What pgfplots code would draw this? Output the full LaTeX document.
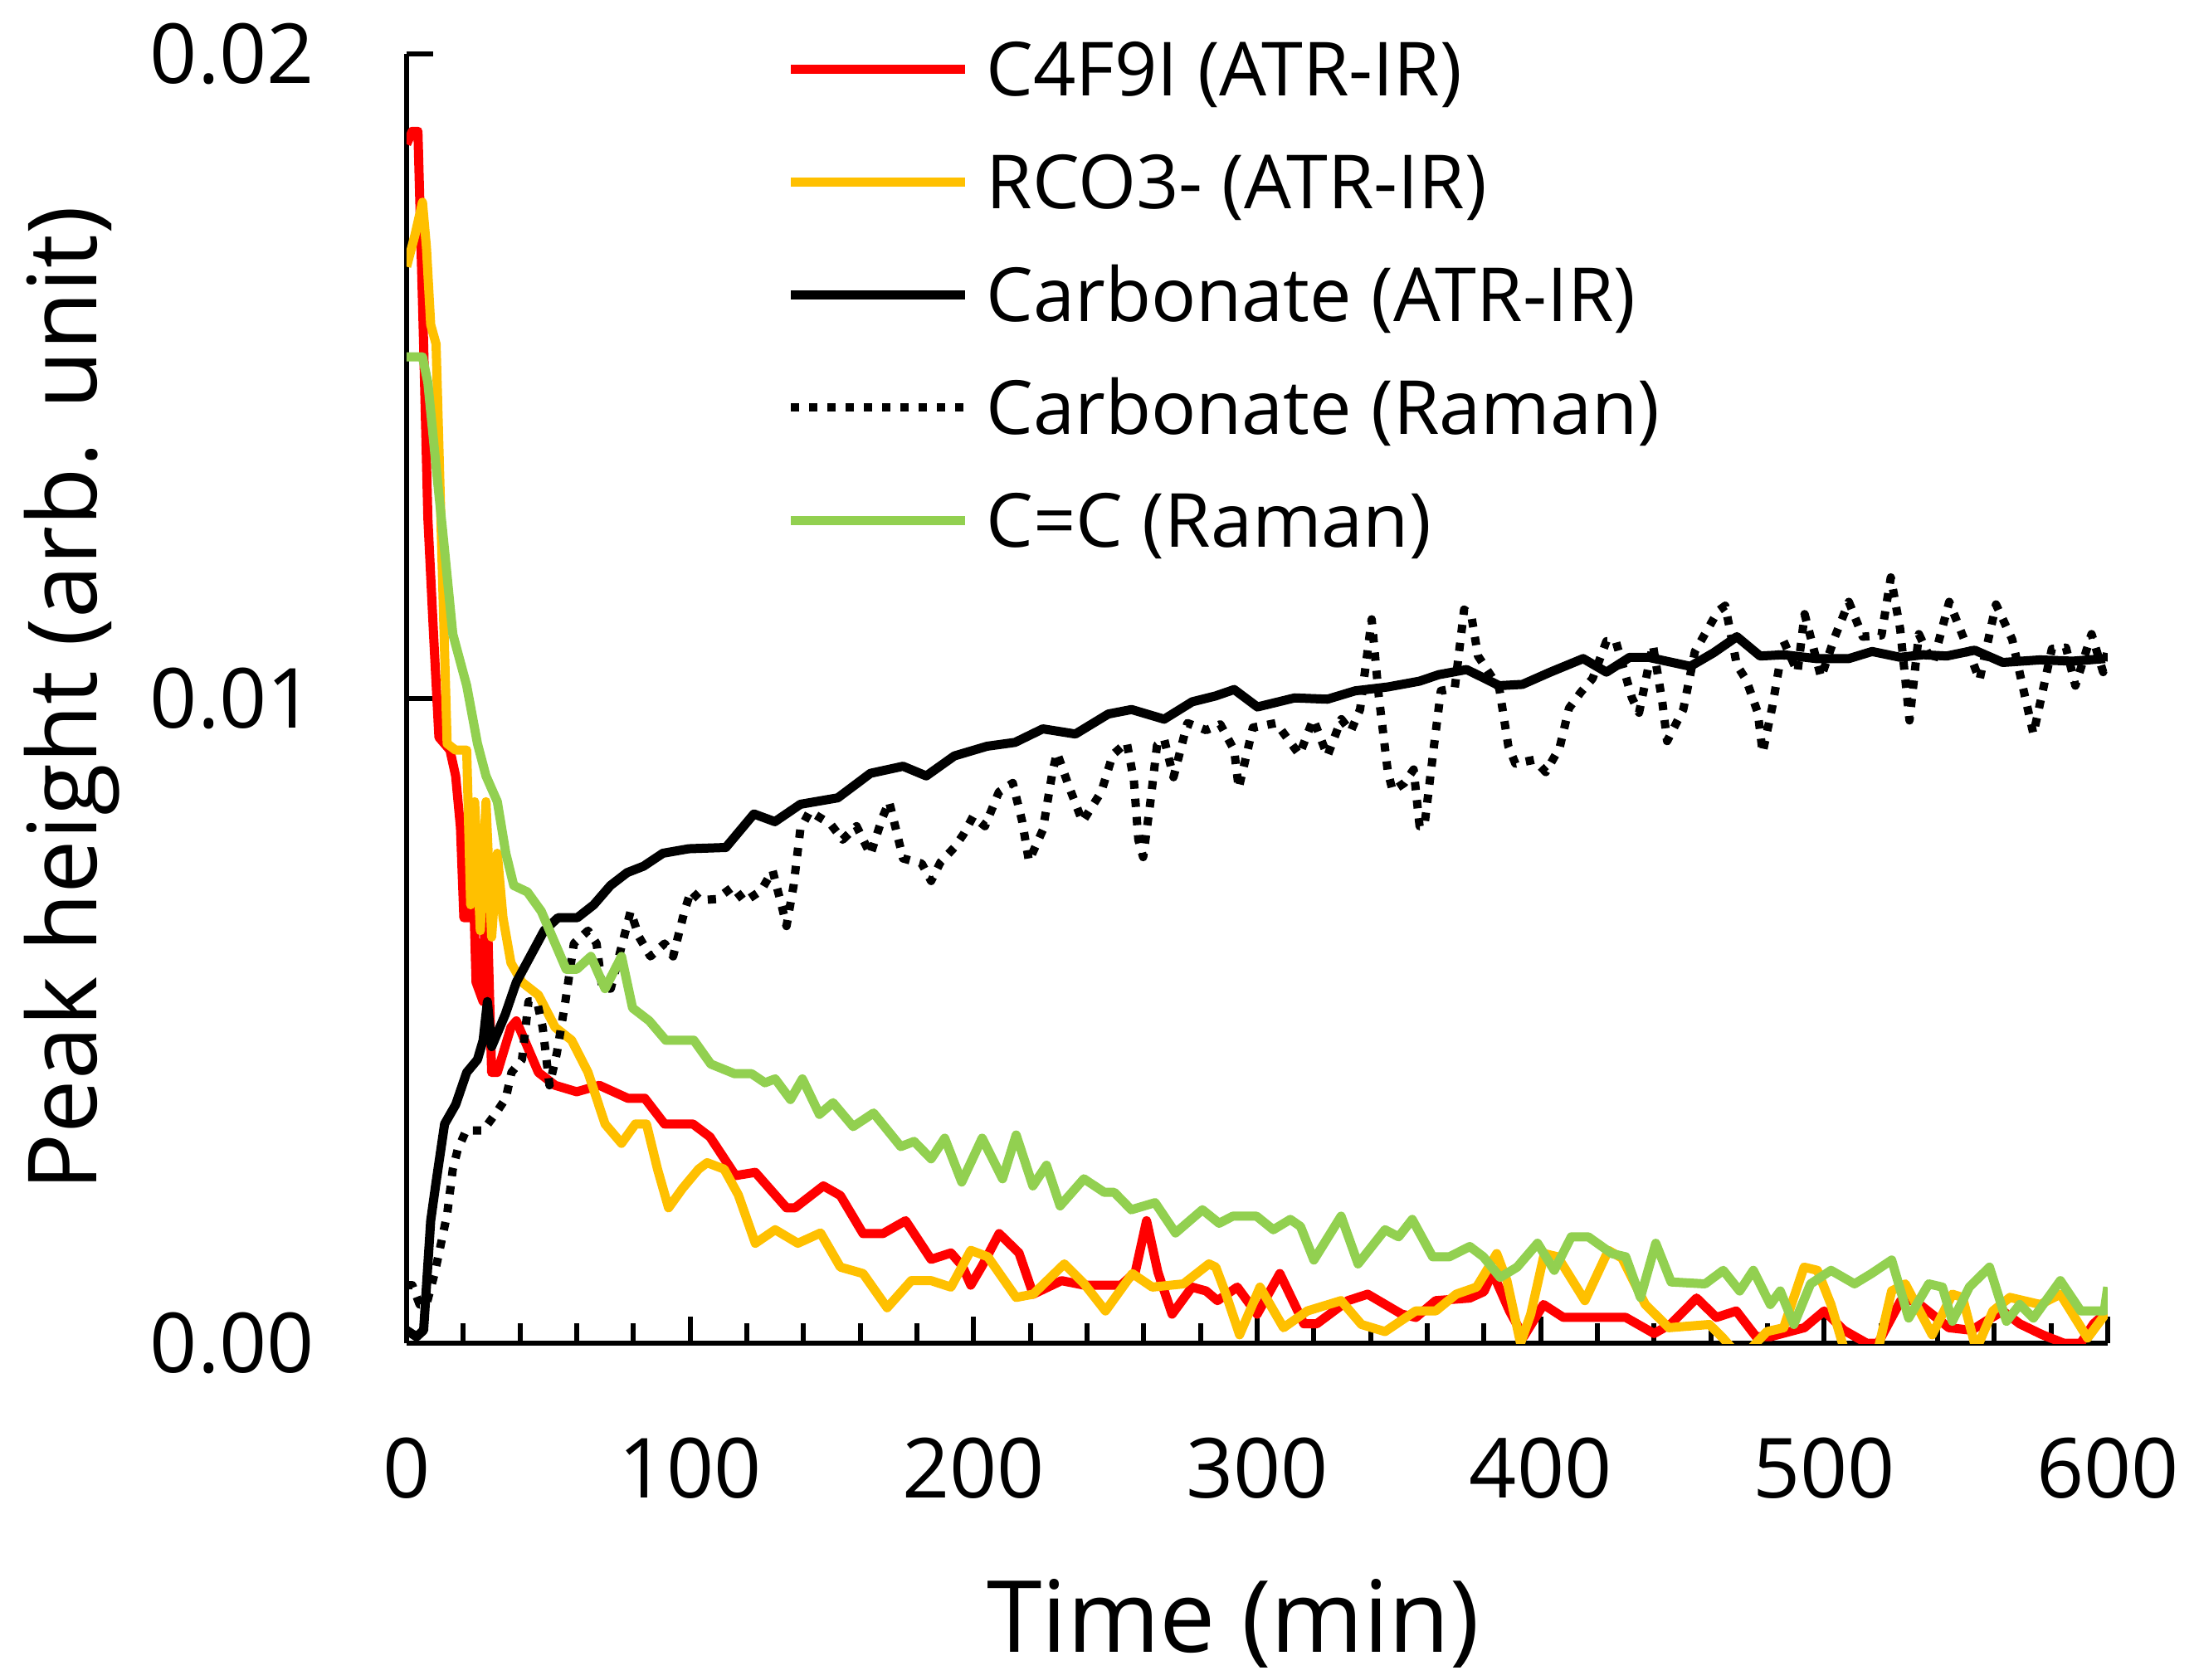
\documentclass[border=0pt]{standalone}
\usepackage{fontspec}
\setmainfont{Open Sans}
\usepackage{pgfplots}
\usepackage{pgfplotstable}
\pgfplotsset{compat=1.18}

\definecolor{exred}{HTML}{FF0000}
\definecolor{exorange}{HTML}{FFC000}
\definecolor{exgreen}{HTML}{92D050}

% C4F9I (ATR-IR)
\pgfplotstableread{
t v
0 0.0186
2 0.0188
4 0.0188
6 0.0155
7.5 0.0128
9.5 0.0110
11.4 0.0094
15.3 0.0092
17.3 0.0088
19 0.0080
20.2 0.0066
22 0.0066
23 0.0080
24.5 0.0056
27 0.0053
28 0.0075
29 0.0058
30 0.0042
32 0.0042
36.8 0.0049
38.7 0.0050
42.6 0.0046
46.5 0.0042
52.4 0.0040
60 0.0039
68 0.0040
78 0.0038
84 0.0038
91 0.0034
101 0.0034
107 0.0032
116 0.0026
123 0.00265
134 0.0021
137 0.0021
147 0.00244
153 0.00229
161 0.0017
168 0.0017
176 0.0019
185 0.0013
192 0.0014
196 0.0012
199 0.0009
203 0.0012
209 0.0017
216 0.0014
221 0.00076
231 0.00097
239 0.0009
252 0.0009
257 0.0011
261 0.0019
265 0.0011
270 0.00045
277 0.00087
282 0.00081
286 0.00066
293 0.00087
300 0.00045
308 0.00108
316.5 0.0003
321 0.0003
332 0.00066
339 0.00076
351 0.00045
356 0.0004
363 0.00066
375 0.0007
380 0.0008
383 0.0011
389 0.0005
394 0.0001
401 0.0006
408 0.0004
430 0.0004
440 0.00015
446 0.0003
455 0.0007
462 0.0004
469 0.0005
476 0.0001
481 0.0001
493 0.00024
500 0.0005
507 0.0002
515 0.0
519 0.0
527 0.00066
532 0.00066
538 0.00045
544 0.00024
552 0.0002
557 0.00034
563 0.0005
569 0.0003
577 0.00013
584.5 0.0
590.5 0.0
595 0.0003
600 0.0005
}\redtab

% RCO3- (ATR-IR)
\pgfplotstableread{
t v
0 0.0167
3 0.0172
5.6 0.0177
7 0.0170
8.5 0.0158
10.4 0.0155
12.4 0.0123
14.3 0.0093
17.3 0.0092
21.2 0.0092
22.6 0.0068
24 0.0084
26 0.0064
28 0.0084
30 0.0063
32 0.0076
34 0.0066
36.8 0.0059
40.7 0.0056
46.5 0.0054
52.4 0.0049
58.2 0.0047
64 0.0042
70 0.0034
75.8 0.0031
80.7 0.0034
84.6 0.0034
88.5 0.0027
92.4 0.0021
97.3 0.0024
103 0.0027
106 0.0028
112 0.0027
117 0.0023
123 0.00155
130 0.00176
138 0.00155
146 0.00171
153 0.00118
161 0.00108
169.5 0.00055
178 0.00097
185 0.00097
192 0.00087
199 0.00144
205 0.00134
215 0.00071
221 0.00076
232 0.00123
239 0.00092
246.5 0.0005
256 0.00108
263 0.00087
274 0.00092
283 0.00123
285.4 0.00118
289 0.00076
293.8 0.00013
301 0.00087
309.3 0.00024
317.7 0.0005
329.6 0.00066
336.8 0.00029
345.1 0.00018
355.9 0.0005
363 0.0005
370.2 0.00076
377.4 0.00087
381 0.00113
384.5 0.00139
388.1 0.00097
392.9 0.0
396.5 0.00045
401.3 0.00139
406 0.00134
415.6 0.00066
423.9 0.00144
428.7 0.00132
436.9 0.0006
445.2 0.00024
459.5 0.00029
464.3 0.00008
467.9 -0.0001
473.8 -0.0001
479.8 0.00018
485.7 0.00024
492.9 0.00118
497.6 0.00113
502.4 0.0006
507.1 -0.0001
519 -0.0001
523.8 0.00081
528.6 0.00092
538.1 0.00013
545.2 0.00076
548.8 0.00071
553.6 -0.0001
559.5 0.0005
565.5 0.00071
576.2 0.0006
583.3 0.00076
592.9 0.00008
600 0.0005
}\orangetab

% Carbonate (ATR-IR)
\pgfplotstableread{
t v
0 0.0002
3.5 0.0001
6 0.0002
8.5 0.0019
10.4 0.0025
13.4 0.0034
17.3 0.0037
21.2 0.0042
25 0.0044
27 0.0047
28.5 0.0053
30 0.0046
34.8 0.0051
38.7 0.0056
43.6 0.0060
48.5 0.0064
53.4 0.0066
60.2 0.0066
66 0.0068
71.9 0.0071
77.8 0.0073
83.6 0.0074
90.4 0.0076
99.5 0.00767
112.6 0.00769
122.5 0.00821
129.9 0.00809
138.9 0.00836
152.1 0.00846
163.6 0.00884
175.1 0.00895
183.3 0.0088
193.2 0.00911
204.7 0.00926
214.6 0.00932
224.4 0.00953
235.9 0.00945
247.5 0.00976
255.7 0.00983
267.2 0.00968
277.1 0.00995
285.3 0.01004
291.9 0.01014
300.1 0.00987
313.2 0.01001
324.8 0.00999
334.6 0.01012
346.1 0.01018
357.3 0.01027
364 0.01037
373.9 0.01045
385.4 0.0102
393.6 0.01022
403.4 0.01041
415 0.01062
423.2 0.01041
431.4 0.01064
438 0.01064
452.8 0.0105
461 0.01071
469.2 0.01096
477.4 0.01066
485.7 0.01068
497.2 0.01062
508.7 0.01062
516.9 0.01073
526.8 0.01064
535 0.01068
543.2 0.01066
553.1 0.01075
563 0.01056
576.1 0.0106
587.6 0.01058
599.1 0.01062
}\carbirtab

% Carbonate (Raman)
\pgfplotstableread{
t v
0 0.0009
2 0.0009
4.6 0.0006
7 0.0006
10 0.0011
14.3 0.0020
16.3 0.0027
18 0.0030
21 0.0033
27 0.0033
32 0.0036
35 0.0038
37 0.0042
40.7 0.0044
43 0.0053
46 0.0053
48 0.0049
50.4 0.0040
53 0.0045
56 0.0053
59 0.0062
64 0.0064
67 0.0062
69 0.0055
72 0.0055
79 0.0067
82 0.0063
86 0.0060
91 0.0062
94 0.0060
98 0.0067
100.3 0.00702
103.6 0.00687
109.3 0.00689
115.1 0.00708
119.2 0.00685
125 0.00702
129.1 0.00733
132.4 0.00677
134 0.00647
136.5 0.0071
138.9 0.00798
142.2 0.00825
149.6 0.00805
153.8 0.00781
158.7 0.00802
163.6 0.00758
167.8 0.00815
170.2 0.0084
173.5 0.00781
175.1 0.00752
181.7 0.00744
185 0.00717
188.3 0.00746
193.2 0.00769
196.5 0.0079
199.8 0.00817
204 0.00802
208.9 0.00855
213.8 0.00869
217.1 0.0081
219.5 0.00748
224.4 0.00796
227.8 0.00886
229.4 0.00916
233.5 0.00865
238.4 0.00809
245 0.00855
249.1 0.00913
254 0.00932
256.5 0.00874
258.1 0.00781
259.8 0.00754
262.3 0.00838
264.7 0.00928
267.2 0.00937
270.5 0.00878
275.4 0.00962
282 0.00951
287 0.0096
291.9 0.0092
293.5 0.00861
298.5 0.00955
306.7 0.00962
314.9 0.00913
319.8 0.00968
324.8 0.00911
329.7 0.00968
333 0.00949
336.3 0.00983
340.4 0.01123
342.9 0.01004
346.1 0.00886
347.8 0.00857
351.9 0.00869
355.2 0.0089
357.3 0.00802
359 0.00802
362.3 0.00924
364.8 0.01012
369.7 0.01016
373 0.01138
375.5 0.0113
377.9 0.01066
385.4 0.01016
388.6 0.00926
391.1 0.00899
397.7 0.00905
401.8 0.00886
406.7 0.00924
410 0.00985
414.2 0.0101
418.3 0.01031
423.2 0.01089
426.5 0.01089
432.2 0.01001
434.7 0.00978
439.6 0.01083
442.9 0.00995
444.6 0.00934
450.3 0.00983
454.4 0.01073
462.6 0.01136
465.1 0.01144
469.2 0.01052
472.5 0.01029
476.6 0.00978
478.3 0.00916
481.6 0.00985
485.7 0.01089
490.6 0.01041
493.1 0.01131
498.9 0.01033
503.8 0.01096
508.7 0.0115
513.6 0.01096
520.2 0.01098
523.5 0.01188
526.8 0.01108
530.1 0.00966
533.4 0.011
538.3 0.01054
544.1 0.0115
549 0.01096
554.8 0.01029
560.6 0.01146
566.3 0.01092
573.8 0.00945
580.3 0.01077
585.3 0.01079
588.6 0.0102
594.3 0.011
598.4 0.01041
600 0.01075
}\carbramantab

% C=C (Raman)
\pgfplotstableread{
t v
0 0.0153
5.6 0.0153
7.5 0.0149
10.4 0.0136
13.4 0.0123
16.3 0.0110
21.2 0.0102
25 0.0093
28 0.0088
32 0.0084
35 0.0076
37.8 0.0071
42.6 0.0070
47.5 0.0067
52.4 0.0062
56.3 0.0058
60 0.0058
65 0.0060
70 0.0055
75.8 0.0060
79.7 0.0052
85.6 0.0050
91.4 0.0047
98.2 0.0047
101.3 0.0047
107.3 0.00433
115.7 0.00418
121.7 0.00418
126.4 0.00404
130 0.0041
135.4 0.00378
139.6 0.0041
145.6 0.00355
150.4 0.00373
157.5 0.00336
164.7 0.00357
174.3 0.00305
179 0.00313
185 0.00286
189.8 0.00318
195.8 0.0025
203 0.00318
210.2 0.00255
215 0.00323
220.9 0.00244
225.7 0.00276
230.5 0.00213
238.9 0.00255
246.1 0.00234
249.6 0.00234
255.6 0.00207
264 0.00218
271.2 0.00171
280.7 0.00207
286.6 0.00186
291.4 0.00197
299.8 0.00197
305.7 0.00176
311.7 0.00192
315.3 0.00181
320 0.00129
329.6 0.00197
335.6 0.00123
345.1 0.00176
349.9 0.00165
354.7 0.00192
361.9 0.00134
367.8 0.00134
375 0.0015
379.8 0.00134
385.7 0.00102
391.7 0.00118
398.9 0.00155
404.8 0.00113
410.8 0.00165
416.8 0.00165
425.1 0.00139
430 0.00134
435.2 0.00071
440.6 0.00155
446 0.00095
458 0.00092
464.4 0.00113
470.2 0.00081
475 0.00113
481 0.0006
484.5 0.00081
489.3 0.00029
495.2 0.00092
502.4 0.00113
510.7 0.00092
516.7 0.00108
523.8 0.00129
529.8 0.00039
536.9 0.00092
541.7 0.00087
545.2 0.00034
551.2 0.00087
558.3 0.00118
564.3 0.00034
569 0.0006
573.8 0.00039
583.3 0.00097
590.5 0.0005
598.8 0.0005
600 0.00087
}\cctab

\begin{document}
\begin{tikzpicture}
\begin{axis}[
  scale only axis,
  width=410pt, height=310.8pt,
  xmin=0, xmax=600, ymin=0, ymax=0.02,
  axis lines=left,
  axis line style={-, line width=1.2pt},
  xtick={0,100,...,600}, minor x tick num=4,
  ytick={0,0.01,0.02},
  tick align=inside,
  major tick length=6.5pt, minor tick length=4.9pt,
  tick style={black, line width=1.2pt},
  scaled y ticks=false,
  yticklabel style={/pgf/number format/.cd, fixed, fixed zerofill, precision=2},
  /pgf/number format/assume math mode=true,
  tick label style={font=\fontsize{20}{24}\selectfont, inner sep=0pt},
  xticklabel shift=22.5pt, yticklabel shift=22pt,
  xlabel={Time (min)},
  ylabel={Peak height (arb. unit)},
  xlabel style={font=\fontsize{24}{28}\selectfont,
    at={(axis description cs:0.486,-0.2400)}, anchor=base},
  ylabel style={font=\fontsize{23}{27}\selectfont,
    at={(axis description cs:-0.1824,0.5)}, anchor=base},
  legend style={at={(axis description cs:0.2234,1.0160)}, anchor=north west,
    draw=none, fill=none, inner sep=0pt, outer sep=0pt,
    font=\fontsize{18}{22}\selectfont, row sep=10.0pt, column sep=3.9pt,
    nodes={inner sep=0pt, text height=15pt, text depth=2.2pt}},
  legend cell align=left,
  legend image code/.code={\draw[#1] (0pt,0pt) -- (42pt,0pt);},
]
\addplot[exred, line width=2.2pt, line join=round] table[x=t, y=v] {\redtab};
\addlegendentry{C4F9I (ATR-IR)}
\addplot[exorange, line width=2.2pt, line join=round] table[x=t, y=v] {\orangetab};
\addlegendentry{RCO3- (ATR-IR)}
\addplot[black, line width=2.2pt, line join=round] table[x=t, y=v] {\carbirtab};
\addlegendentry{Carbonate (ATR-IR)}
\addplot[black, line width=2pt, line join=round, dash pattern=on 2pt off 2.4pt] table[x=t, y=v] {\carbramantab};
\addlegendentry{Carbonate (Raman)}
\addplot[exgreen, line width=2.2pt, line join=round] table[x=t, y=v] {\cctab};
\addlegendentry{C=C (Raman)}
\end{axis}
\pgfresetboundingbox
\path (current axis.south west) ++(-98pt,-81pt) rectangle ++(530pt,404.8pt);
\end{tikzpicture}
\end{document}
